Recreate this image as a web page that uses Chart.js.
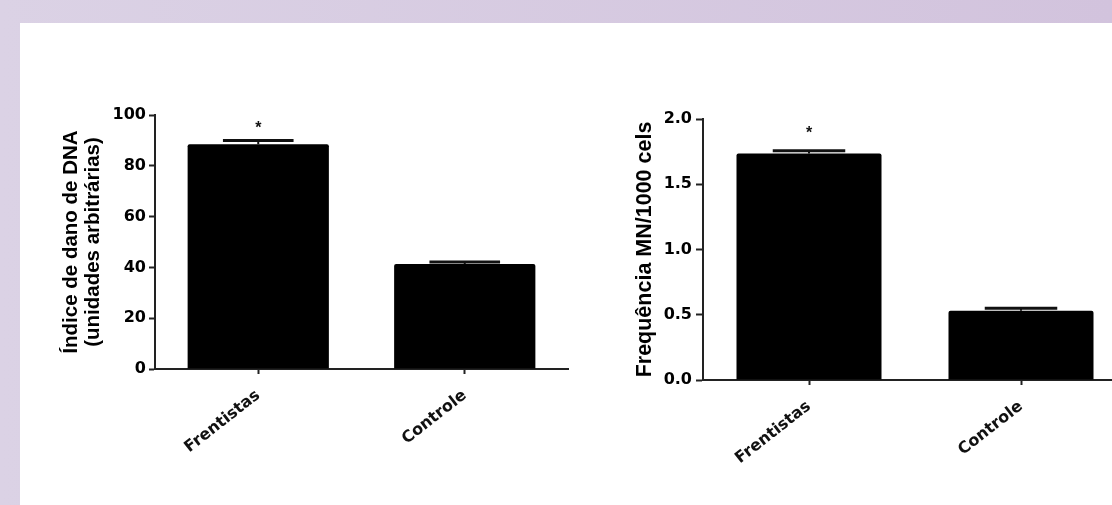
<!DOCTYPE html>
<html>
<head>
<meta charset="utf-8">
<script src="https://cdn.jsdelivr.net/npm/chart.js@4/dist/chart.umd.min.js"></script>
<style>
  html, body { margin: 0; padding: 0; }
  body { width: 1112px; height: 505px; overflow: hidden; position: relative;
         background: linear-gradient(to right, #dbd2e5, #d2c3dd); }
  #panel { position: absolute; left: 20px; top: 23px; right: 0; bottom: 0; background: #ffffff; }
  #c1 { position: absolute; left: 0; top: 0; }
  #c2 { position: absolute; left: 560px; top: 0; }
</style>
</head>
<body>
<div id="panel"></div>
<canvas id="c1" width="572" height="505"></canvas>
<canvas id="c2" width="571" height="505"></canvas>
<script>
// ---- data ----
const categories = ['Frentistas', 'Controle'];

const dnaMeans = [88.5, 41.3];
const dnaErrors = [1.5, 0.8];
const dnaSignif = [96, null];
const dnaTickLabels = ['0', '20', '40', '60', '80', '100'];
const dnaTitle = ['Índice de dano de DNA', '(unidades arbitrárias)'];

const mnMeans = [1.735, 0.53];
const mnErrors = [0.022, 0.019];
const mnSignif = [1.91, null];
const mnTickLabels = ['0.0', '0.5', '1.0', '1.5', '2.0'];
const mnTitle = 'Frequência MN/1000 cels';

// ---- error bars / significance plugin ----
const errorBarPlugin = {
  id: 'errorBars',
  afterDatasetsDraw(chart, args, opts) {
    const ctx = chart.ctx;
    const y = chart.scales.y;
    const meta = chart.getDatasetMeta(0);
    meta.data.forEach((bar, i) => {
      const mean = opts.means[i], err = opts.errors[i];
      const yTop = y.getPixelForValue(mean + err);
      const yBar = y.getPixelForValue(mean);
      const half = bar.width / 4;
      ctx.save();
      ctx.strokeStyle = '#111';
      ctx.lineWidth = 2;
      ctx.beginPath();
      ctx.moveTo(bar.x, yBar);
      ctx.lineTo(bar.x, yTop);
      ctx.stroke();
      ctx.lineWidth = 3;
      ctx.beginPath();
      ctx.moveTo(bar.x - half, yTop);
      ctx.lineTo(bar.x + half, yTop);
      ctx.stroke();
      const s = opts.signif[i];
      if (s !== null && s !== undefined) {
        ctx.fillStyle = '#111';
        ctx.font = 'bold 16px "Liberation Sans", Arial, sans-serif';
        ctx.textAlign = 'center';
        ctx.textBaseline = 'middle';
        ctx.fillText('*', bar.x, y.getPixelForValue(s) + 3);
      }
      ctx.restore();
    });
  }
};

function makeChart(el, cfg) {
  return new Chart(document.getElementById(el), {
    type: 'bar',
    data: {
      labels: categories,
      datasets: [{
        data: cfg.means,
        backgroundColor: '#000000',
        borderWidth: 0,
        borderRadius: 2,
        borderSkipped: 'bottom',
        categoryPercentage: 1.0,
        barPercentage: 0.684
      }]
    },
    plugins: [errorBarPlugin],
    options: {
      responsive: false,
      animation: false,
      devicePixelRatio: 1,
      layout: { padding: { top: cfg.top, left: 0, right: 4, bottom: 0 } },
      plugins: {
        legend: { display: false },
        tooltip: { enabled: false },
        errorBars: { means: cfg.means, errors: cfg.errors, signif: cfg.signif }
      },
      scales: {
        x: {
          offset: true,
          afterFit(scale) { scale.height = cfg.xHeight; },
          border: { display: true, color: '#222', width: 2 },
          grid: { display: true, offset: false, drawOnChartArea: false, drawTicks: true,
                  tickLength: 5, tickWidth: 2, tickColor: '#222' },
          ticks: {
            autoSkip: false, minRotation: 38, maxRotation: 38, padding: 12,
            color: '#111',
            font: { family: '"DejaVu Sans", sans-serif', weight: 'bold', size: 16 }
          }
        },
        y: {
          min: 0, max: cfg.max,
          afterFit(scale) { scale.width = cfg.yWidth; },
          afterBuildTicks(scale) {
            scale.ticks = cfg.tickLabels.map((t, i) => ({ value: i * cfg.step }));
          },
          border: { display: true, color: '#222', width: 2 },
          grid: { display: true, drawOnChartArea: false, drawTicks: true,
                  tickLength: cfg.tickLen, tickWidth: 2, tickColor: '#222' },
          ticks: {
            padding: cfg.tickPad, color: '#000',
            font: { family: '"DejaVu Sans", sans-serif', weight: 'bold', size: 16 },
            callback: (v, i) => cfg.tickLabels[i]
          },
          title: {
            display: true, text: cfg.title, color: '#000',
            font: { family: '"Liberation Sans", Arial, sans-serif', weight: 'bold', size: cfg.titleSize, lineHeight: 1.05 },
            padding: { top: cfg.titlePad, bottom: 0 }
          }
        }
      }
    }
  });
}

makeChart('c1', {
  means: dnaMeans, errors: dnaErrors, signif: dnaSignif,
  tickLabels: dnaTickLabels, step: 20, max: 100, title: dnaTitle,
  top: 115, xHeight: 136, yWidth: 155, tickLen: 6, tickPad: 3,
  titleSize: 20.5, titlePad: 61
});

makeChart('c2', {
  means: mnMeans, errors: mnErrors, signif: mnSignif,
  tickLabels: mnTickLabels, step: 0.5, max: 2.0, title: mnTitle,
  top: 119, xHeight: 125, yWidth: 143, tickLen: 7, tickPad: 4,
  titleSize: 21.5, titlePad: 74
});
</script>
</body>
</html>
